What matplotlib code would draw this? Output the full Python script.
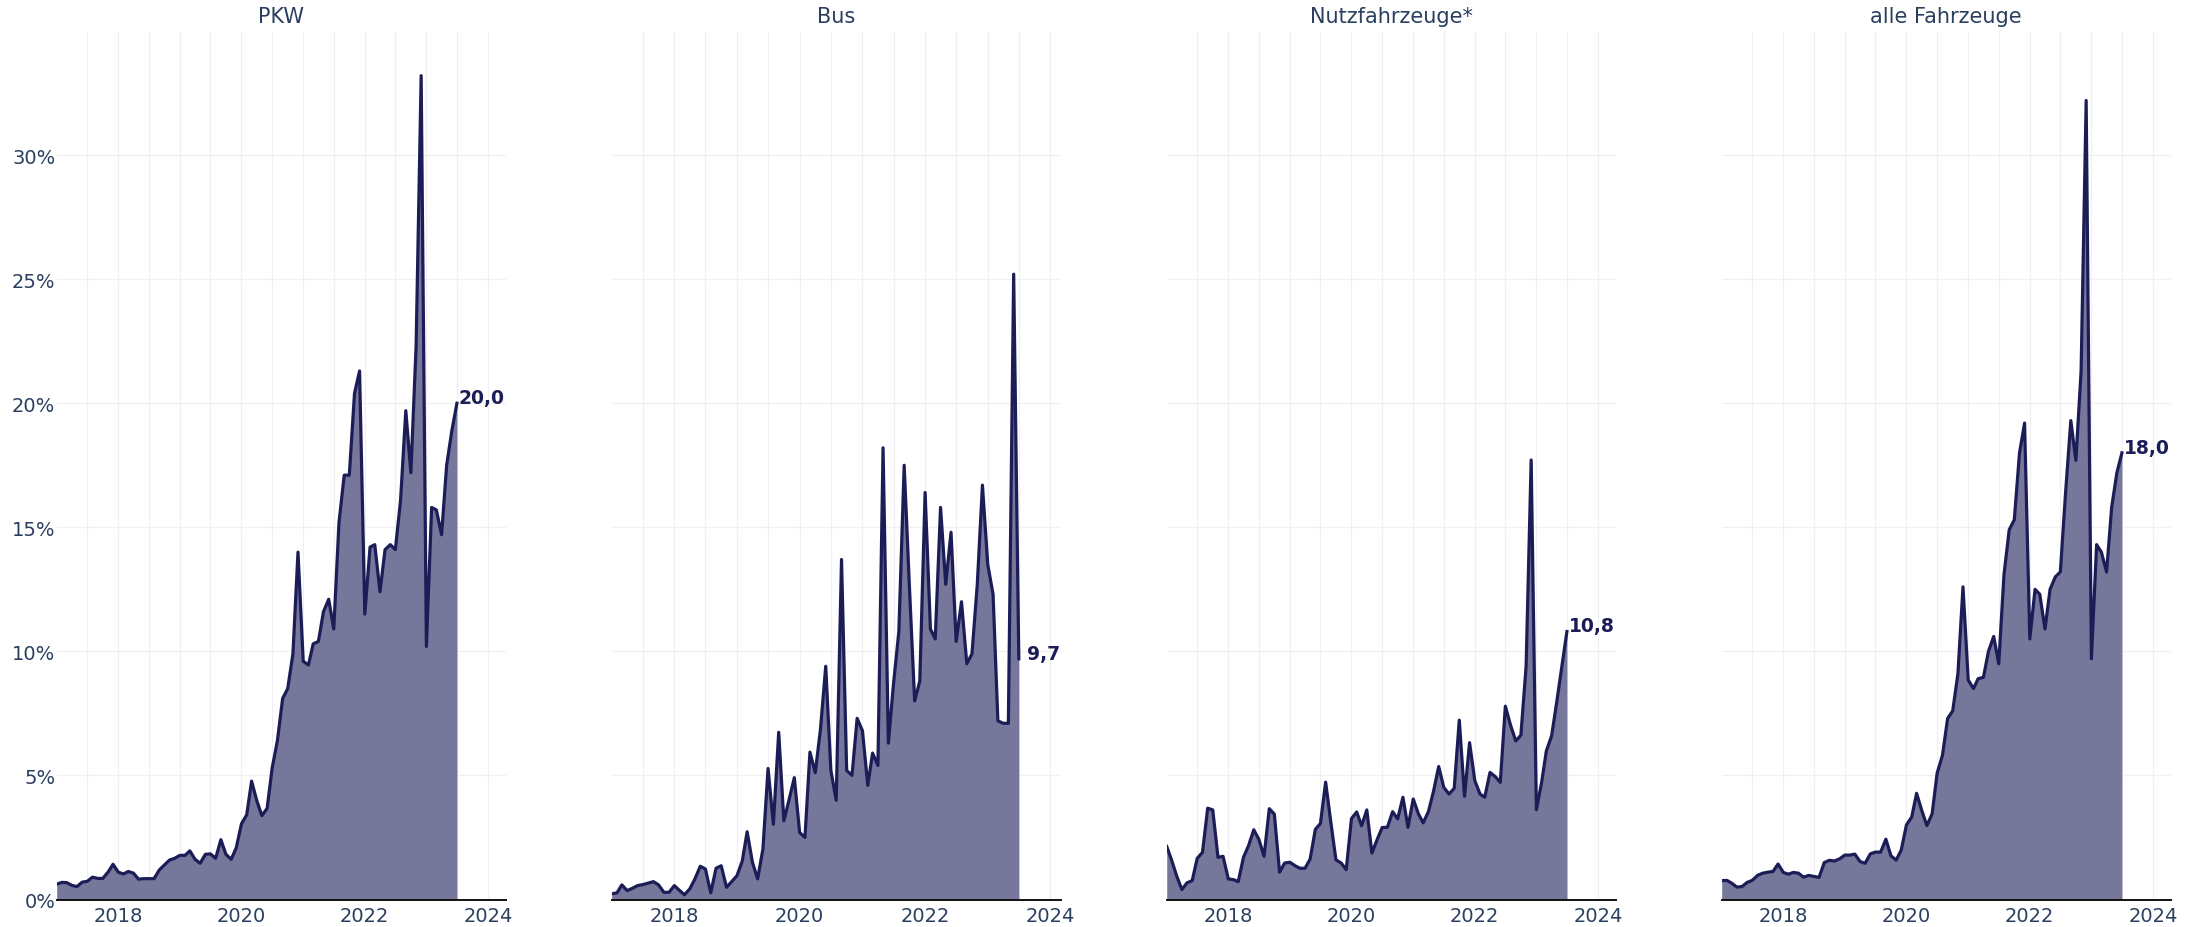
import matplotlib
matplotlib.use("Agg")
import matplotlib.pyplot as plt
import matplotlib.dates as mdates
import pandas as pd
import numpy as np

# ---------------- data (monthly share in %, Jan 2017 - Jul 2023) ----------------
dates = pd.date_range("2017-01-01", periods=79, freq="MS")

titles = ["PKW", "Bus", "Nutzfahrzeuge*", "alle Fahrzeuge"]

pkw = [0.62, 0.69, 0.68, 0.57, 0.52, 0.70, 0.73, 0.90, 0.85, 0.85, 1.10, 1.42,
       1.10, 1.03, 1.13, 1.06, 0.82, 0.84, 0.84, 0.84, 1.19, 1.39, 1.59, 1.66,
       1.78, 1.78, 1.96, 1.62, 1.46, 1.82, 1.84, 1.66, 2.41, 1.82, 1.62, 2.08,
       3.05, 3.41, 4.77, 3.98, 3.38, 3.67, 5.30, 6.40, 8.10, 8.50, 9.90, 14.0,
       9.60, 9.45, 10.3, 10.4, 11.6, 12.1, 10.9, 15.2, 17.1, 17.1, 20.4, 21.3,
       11.5, 14.2, 14.3, 12.4, 14.1, 14.3, 14.1, 16.1, 19.7, 17.2, 22.3, 33.2,
       10.2, 15.8, 15.7, 14.7, 17.5, 18.9, 20.0]

bus = [0.23, 0.27, 0.59, 0.36, 0.45, 0.56, 0.60, 0.66, 0.72, 0.59, 0.29, 0.29,
       0.56, 0.36, 0.19, 0.43, 0.83, 1.34, 1.23, 0.27, 1.26, 1.36, 0.49, 0.72,
       0.96, 1.56, 2.73, 1.50, 0.83, 2.03, 5.28, 3.03, 6.74, 3.17, 4.04, 4.91,
       2.70, 2.50, 5.94, 5.11, 6.84, 9.40, 5.20, 4.00, 13.7, 5.20, 5.00, 7.30,
       6.80, 4.60, 5.90, 5.40, 18.2, 6.30, 8.70, 10.8, 17.5, 12.7, 8.00, 8.80,
       16.4, 10.9, 10.5, 15.8, 12.7, 14.8, 10.4, 12.0, 9.50, 9.90, 12.7, 16.7,
       13.5, 12.3, 7.20, 7.10, 7.10, 25.2, 9.70]

nfz = [2.14, 1.55, 0.95, 0.40, 0.67, 0.76, 1.66, 1.90, 3.68, 3.61, 1.70, 1.74,
       0.83, 0.80, 0.72, 1.70, 2.17, 2.81, 2.43, 1.74, 3.66, 3.44, 1.10, 1.47,
       1.50, 1.36, 1.26, 1.26, 1.63, 2.83, 3.06, 4.73, 3.10, 1.60, 1.47, 1.20,
       3.26, 3.53, 2.97, 3.61, 1.87, 2.41, 2.90, 2.91, 3.54, 3.25, 4.12, 2.91,
       4.05, 3.45, 3.09, 3.54, 4.35, 5.36, 4.52, 4.25, 4.48, 7.23, 4.16, 6.32,
       4.79, 4.25, 4.12, 5.12, 4.96, 4.72, 7.79, 7.02, 6.39, 6.62, 9.40, 17.71,
       3.62, 4.72, 5.99, 6.59, 7.93, 9.40, 10.8]

alle = [0.76, 0.77, 0.66, 0.50, 0.52, 0.69, 0.77, 0.97, 1.06, 1.10, 1.13, 1.43,
        1.09, 1.02, 1.09, 1.06, 0.90, 0.97, 0.93, 0.89, 1.49, 1.58, 1.55, 1.64,
        1.79, 1.79, 1.83, 1.53, 1.46, 1.84, 1.91, 1.91, 2.43, 1.76, 1.59, 1.99,
        3.01, 3.32, 4.28, 3.58, 2.98, 3.45, 5.10, 5.80, 7.30, 7.60, 9.10, 12.6,
        8.85, 8.50, 8.90, 8.95, 10.0, 10.6, 9.50, 13.1, 14.9, 15.3, 18.0, 19.2,
        10.5, 12.5, 12.3, 10.9, 12.5, 13.0, 13.2, 16.4, 19.3, 17.7, 21.3, 32.2,
        9.70, 14.3, 14.0, 13.2, 15.8, 17.2, 18.0]

series = [pkw, bus, nfz, alle]

y_ticks = [0, 5, 10, 15, 20, 25, 30]
x_tick_years = [2018, 2020, 2022, 2024]
x_range_start = "2017-01-01"
x_range_end = ["2024-04-15", "2024-03-01", "2024-04-15", "2024-04-15"]

# ---------------- style ----------------
W, H = 2195, 928
LINE = "#1c1d57"
FILL = "#76779b"
TEXT = "#2a3f5f"
GRID = "#f0f0f2"

plt.rcParams["font.family"] = ["DejaVu Sans"]

fig = plt.figure(figsize=(W / 100, H / 100), dpi=100)
fig.patch.set_facecolor("white")

ax_left_px = [56.7, 611.7, 1166.7, 1721.7]
ax_w_px = 449
ax_bottom_px = 900.5
ax_top_px = 32

x0 = mdates.date2num(pd.Timestamp(x_range_start))
half_years = pd.date_range("2017-07-01", "2024-01-01", freq="6MS")

for k, (title, vals) in enumerate(zip(titles, series)):
    ax = fig.add_axes([ax_left_px[k] / W, (H - ax_bottom_px) / H,
                       ax_w_px / W, (ax_bottom_px - ax_top_px) / H])
    ax.set_xlim(x0, mdates.date2num(pd.Timestamp(x_range_end[k])))
    ax.set_ylim(0, 35)

    # grid
    for yv in y_ticks[1:]:
        ax.axhline(yv, color=GRID, lw=0.9, zorder=0)
    for d in half_years:
        ax.axvline(mdates.date2num(d), color=GRID, lw=0.9, zorder=0)

    ax.fill_between(dates, vals, 0, color=FILL, lw=0, zorder=2)
    ax.plot(dates, vals, color=LINE, lw=2.3, zorder=3, solid_joinstyle="round")

    for s in ["top", "right", "left"]:
        ax.spines[s].set_visible(False)
    ax.spines["bottom"].set_color("#111111")
    ax.spines["bottom"].set_linewidth(1.4)
    ax.spines["bottom"].set_zorder(4)

    ax.set_xticks([mdates.date2num(pd.Timestamp(f"{y}-01-01")) for y in x_tick_years])
    ax.set_xticklabels([str(y) for y in x_tick_years])
    ax.tick_params(axis="x", length=0, pad=5, labelsize=14, labelcolor=TEXT)

    ax.set_yticks(y_ticks)
    if k == 0:
        ax.set_yticklabels([f"{v}%" for v in y_ticks])
        ax.tick_params(axis="y", length=0, pad=1, labelsize=14, labelcolor=TEXT)
    else:
        ax.set_yticklabels([])
        ax.tick_params(axis="y", length=0)

    last = vals[-1]
    ax.annotate(f"{last:.1f}".replace(".", ","),
                xy=(mdates.date2num(dates[-1]), last),
                xytext=(18, 4), textcoords="offset points",
                ha="center", va="center", fontsize=13.5, fontweight="bold",
                color=LINE, annotation_clip=False, zorder=5)

    cx = (ax_left_px[k] + ax_w_px / 2) / W
    fig.text(cx, 1 - 17 / H, title, ha="center", va="center",
             fontsize=15, color=TEXT)

fig.savefig("out.png", dpi=100, facecolor="white")
